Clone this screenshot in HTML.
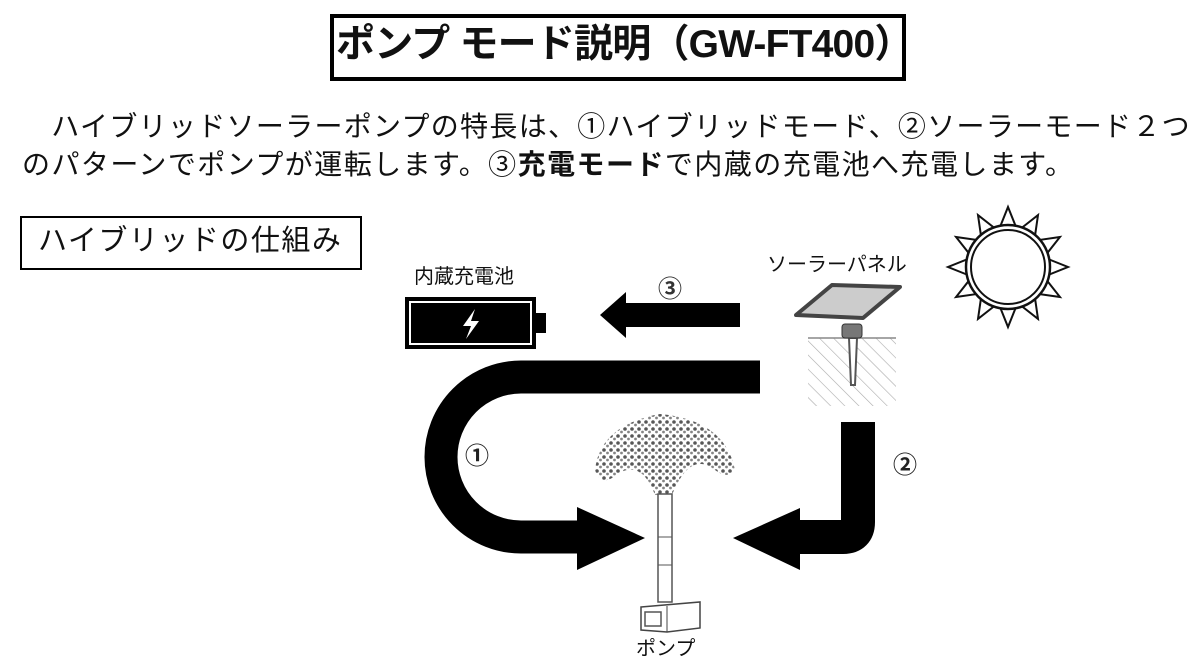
<!DOCTYPE html>
<html><head><meta charset="utf-8">
<style>
html,body{margin:0;padding:0;background:#fff;}
body{width:1200px;height:672px;position:relative;overflow:hidden;font-family:"Liberation Sans","Noto Sans CJK JP",sans-serif;color:#111;}
.t{position:absolute;white-space:nowrap;}
</style></head><body>
<div style="position:absolute;left:330px;top:14px;width:568px;height:59px;border:4px solid #000;"></div>
<div class="t" style="left:336px;top:20px;font-size:39px;font-weight:bold;line-height:50px;letter-spacing:-0.8px;">ポンプ モード説明（GW-FT400）</div>
<div class="t" style="left:22px;top:108px;font-size:28px;line-height:38px;letter-spacing:1.3px;">　ハイブリッドソーラーポンプの特長は、①ハイブリッドモード、②ソーラーモード２つ</div>
<div class="t" style="left:22px;top:146px;font-size:28px;line-height:38px;letter-spacing:1.45px;">のパターンでポンプが運転します。③<b>充電モード</b>で内蔵の充電池へ充電します。</div>
<div style="position:absolute;left:20px;top:216px;width:338px;height:50px;border:2px solid #000;"></div>
<div class="t" style="left:38px;top:222px;font-size:29px;line-height:38px;letter-spacing:1.5px;">ハイブリッドの仕組み</div>
<div class="t" style="left:414px;top:264px;font-size:20px;line-height:26px;">内蔵充電池</div>
<div class="t" style="left:767px;top:252px;font-size:20px;line-height:26px;">ソーラーパネル</div>
<div class="t" style="left:636px;top:636px;font-size:20px;line-height:26px;">ポンプ</div>
<svg width="1200" height="672" style="position:absolute;left:0;top:0">
<defs>
<pattern id="h" width="10" height="10" patternUnits="userSpaceOnUse" patternTransform="rotate(-45)"><line x1="0" y1="0" x2="0" y2="10" stroke="#aaa" stroke-width="1.2"/></pattern>
<pattern id="d" width="7" height="7" patternUnits="userSpaceOnUse"><circle cx="2" cy="2" r="1.8" fill="#444"/><circle cx="5.5" cy="5" r="1.4" fill="#777"/></pattern>
</defs>
<rect x="405" y="297" width="131" height="52" fill="#000"/>
<rect x="410" y="302" width="121" height="42" fill="none" stroke="#fff" stroke-width="2"/>
<rect x="536" y="313" width="10" height="20" fill="#000"/>
<polygon points="475,309 463,326 471,326 466,339 479,321 471,321" fill="#fff"/>
<polygon points="740,303 626,303 626,292 600,315 626,338 626,327 740,327" fill="#000"/>
<text x="670" y="297" font-size="24" font-weight="bold" font-family="Liberation Sans,Noto Sans CJK JP,sans-serif" fill="#333" text-anchor="middle">③</text>
<path d="M760 377 H521 A80 80 0 0 0 521 537 H585" fill="none" stroke="#000" stroke-width="33"/>
<polygon points="577,507 645,538 577,570" fill="#000"/>
<text x="477" y="464" font-size="24" font-weight="bold" font-family="Liberation Sans,Noto Sans CJK JP,sans-serif" fill="#222" text-anchor="middle">①</text>
<path d="M858 422 V522 Q858 537 843 537 H795" fill="none" stroke="#000" stroke-width="34"/>
<polygon points="800,508 733,538 800,570" fill="#000"/>
<text x="905" y="473" font-size="24" font-weight="bold" font-family="Liberation Sans,Noto Sans CJK JP,sans-serif" fill="#222" text-anchor="middle">②</text>
<rect x="808" y="338" width="88" height="68" fill="url(#h)"/>
<line x1="808" y1="338" x2="896" y2="338" stroke="#888" stroke-width="1.5"/>
<path d="M849 338 L851 385 L855 385 L857 338 Z" fill="#fff" stroke="#555" stroke-width="2"/>
<rect x="842" y="324" width="20" height="14" rx="3" fill="#777" stroke="#333"/>
<polygon points="796,315 832,285 900,287 863,318" fill="#ccc" stroke="#444" stroke-width="4" stroke-linejoin="round"/>
<g transform="translate(1008,267)" fill="#fff" stroke="#111" stroke-width="2">
<g id="sp"><polygon points="-8,-40 0,-60 8,-40"/></g>
<use href="#sp" transform="rotate(30)"/><use href="#sp" transform="rotate(60)"/><use href="#sp" transform="rotate(90)"/><use href="#sp" transform="rotate(120)"/><use href="#sp" transform="rotate(150)"/><use href="#sp" transform="rotate(180)"/><use href="#sp" transform="rotate(210)"/><use href="#sp" transform="rotate(240)"/><use href="#sp" transform="rotate(270)"/><use href="#sp" transform="rotate(300)"/><use href="#sp" transform="rotate(330)"/>
<circle r="42" stroke-width="2.5"/>
<circle r="37" stroke-width="2"/>
</g>
<path d="M595 470 Q600 425 660 414 Q725 420 735 470 Q728 480 715 470 Q690 450 672 495 L655 495 Q640 455 612 478 Q600 485 595 470 Z" fill="url(#d)" opacity="0.9"/>
<rect x="658" y="494" width="14" height="108" fill="#fff" stroke="#555" stroke-width="1.5"/>
<line x1="658" y1="537" x2="672" y2="537" stroke="#555"/>
<line x1="658" y1="565" x2="672" y2="565" stroke="#555"/>
<path d="M641 607 L700 602 L700 628 L667 632 L641 630 Z" fill="#fff" stroke="#444" stroke-width="1.5"/>
<line x1="667" y1="606" x2="667" y2="632" stroke="#444"/>
<rect x="645" y="612" width="16" height="14" fill="none" stroke="#555" stroke-width="1.5"/>
</svg>
</body></html>
